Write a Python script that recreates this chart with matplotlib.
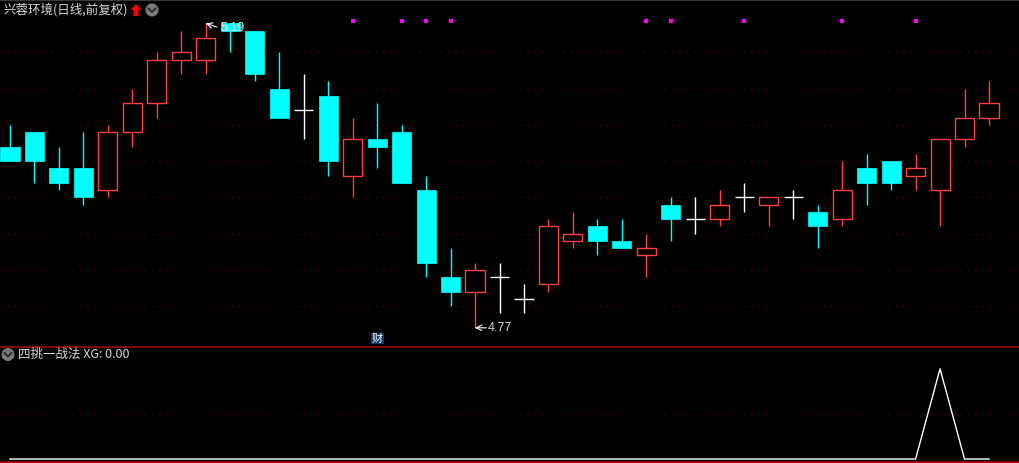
# candlestick chart: 兴蓉环境 daily (qfq) + 四挑一战法 XG indicator

import numpy as np
import matplotlib
matplotlib.use("Agg")
import matplotlib.pyplot as plt
import matplotlib.transforms as mtrans
from matplotlib.patches import Rectangle, Polygon, Ellipse
from matplotlib.lines import Line2D

# data
opens = [5.02, 5.04, 4.99, 4.99, 4.96, 5.04, 5.08, 5.14, 5.14, 5.19,
         5.18, 5.10, 5.07, 5.09, 4.98, 5.03, 5.04, 4.96, 4.84, 4.82,
         4.84, 4.81, 4.83, 4.89, 4.91, 4.89, 4.87, 4.94, 4.92, 4.92,
         4.95, 4.94, 4.95, 4.93, 4.92, 4.99, 5.00, 4.98, 4.96, 5.03, 5.06]
highs = [5.05, 5.04, 5.02, 5.04, 5.05, 5.10, 5.15, 5.18, 5.19, 5.19,
         5.18, 5.15, 5.12, 5.11, 5.06, 5.08, 5.05, 4.98, 4.88, 4.86,
         4.86, 4.83, 4.92, 4.93, 4.92, 4.92, 4.90, 4.95, 4.95, 4.96,
         4.97, 4.95, 4.96, 4.94, 5.00, 5.01, 5.00, 5.01, 5.03, 5.10, 5.11]
lows = [5.00, 4.97, 4.96, 4.94, 4.95, 5.02, 5.06, 5.12, 5.12, 5.15,
        5.11, 5.06, 5.03, 4.98, 4.95, 4.99, 4.97, 4.84, 4.80, 4.77,
        4.79, 4.79, 4.82, 4.88, 4.87, 4.88, 4.84, 4.89, 4.90, 4.91,
        4.93, 4.91, 4.92, 4.88, 4.91, 4.94, 4.96, 4.96, 4.91, 5.02, 5.05]
closes = [5.00, 5.00, 4.97, 4.95, 5.04, 5.08, 5.14, 5.15, 5.17, 5.18,
          5.12, 5.06, 5.07, 5.00, 5.03, 5.02, 4.97, 4.86, 4.82, 4.85,
          4.84, 4.81, 4.91, 4.90, 4.89, 4.88, 4.88, 4.92, 4.92, 4.94,
          4.95, 4.95, 4.95, 4.91, 4.96, 4.97, 4.97, 4.99, 5.03, 5.06, 5.08]
xg = [0] * 38 + [1, 0, 0]
signal_days = [14, 16, 17, 18, 26, 27, 30, 34, 37]   # magenta dots
cai_day = 15                                           # 财 marker
grid_prices = [4.80, 4.85, 4.90, 4.95, 5.00, 5.05, 5.10, 5.15]

W, H = 1019, 463
BG = "black"
UP = "#ff4040"
DOWN = "#00ffff"
GRID = "#720000"
SEP = "#a00000"
TXT = "#d6d6d6"
CJK = ["Noto Sans CJK SC", "DejaVu Sans"]
DOTS = (0, (1, 5.5))

n = len(opens)
idx = np.arange(n)


def fpos(x, y):
    # pixel (from top-left) -> figure fraction
    return x / W, 1 - y / H


fig = plt.figure(figsize=(W / 100, H / 100), dpi=100, facecolor=BG)

# main price panel, y from 0 to 346 px
ax = fig.add_axes([0, 1 - 346 / H, 1, 346 / H], facecolor=BG)
# 0.05 price step == 36.25 px, 5.15 sits at y=52.3 px
ppx = 725.0
ax.set_ylim(5.15 - (346 - 52.3) / ppx, 5.15 + 52.3 / ppx)
step = 24.475
ax.set_xlim(-10 / step, (W - 10) / step)

for gp in grid_prices:
    ax.axhline(gp, color=GRID, lw=0.8, ls=DOTS, zorder=0)

bw = 0.78
for i in range(n):
    o, h, l, c = opens[i], highs[i], lows[i], closes[i]
    if c > o:
        ax.vlines(i, c, h, color=UP, lw=1.0, zorder=2)
        ax.vlines(i, l, o, color=UP, lw=1.0, zorder=2)
        ax.add_patch(Rectangle((i - bw / 2, o), bw, c - o, facecolor=BG,
                               edgecolor=UP, lw=1.0, zorder=3))
    elif c < o:
        ax.vlines(i, l, h, color=DOWN, lw=1.0, zorder=2)
        ax.add_patch(Rectangle((i - bw / 2, c), bw, o - c, facecolor=DOWN,
                               edgecolor=DOWN, lw=0.5, zorder=3))
    else:
        ax.vlines(i, l, h, color="white", lw=1.0, zorder=2)
        ax.hlines(o, i - bw / 2, i + bw / 2, color="white", lw=1.0, zorder=2)

blend = mtrans.blended_transform_factory(ax.transData, ax.transAxes)
ax.plot(signal_days, [1 - 21.3 / 346] * len(signal_days), ls="none",
        marker="s", ms=2.6, color="#ff00ff", mew=0, transform=blend, zorder=4)

ax.text(cai_day, 1 - 338.5 / 346, "财", transform=blend, ha="center",
        va="center", fontsize=8, color="white", family=CJK,
        bbox=dict(boxstyle="square,pad=0.08", facecolor="#0d3b6e",
                  edgecolor="none"), zorder=5)

# max / min labels
imax = int(np.argmax(highs))
imin = int(np.argmin(lows))
ax.annotate("", xy=(imax, highs[imax]), xytext=(8, -2.7),
            textcoords="offset points",
            arrowprops=dict(arrowstyle="->", color="white", lw=0.8,
                            shrinkA=0, shrinkB=0), zorder=6)
ax.annotate(f"{highs[imax]:.2f}", xy=(imax, highs[imax]), xytext=(10.3, -3.4),
            textcoords="offset points", ha="left", va="center", fontsize=9,
            color="#e8e8e8", family=["Liberation Sans"], zorder=6)
ax.annotate("", xy=(imin, lows[imin]), xytext=(8.2, 0),
            textcoords="offset points",
            arrowprops=dict(arrowstyle="->", color="white", lw=0.8,
                            shrinkA=0, shrinkB=0), zorder=6)
ax.annotate(f"{lows[imin]:.2f}", xy=(imin, lows[imin]), xytext=(8.8, 0),
            textcoords="offset points", ha="left", va="center", fontsize=9,
            color=TXT, family=["Liberation Sans"], zorder=6)

for s in ["left", "right", "bottom"]:
    ax.spines[s].set_visible(False)
ax.spines["top"].set_color("#3a3a3a")
ax.spines["top"].set_linewidth(1.5)
ax.set_xticks([])
ax.set_yticks([])

# indicator panel
ax2 = fig.add_axes([0, 1 / H, 1, 115 / H], facecolor=BG)
ax2.set_xlim(ax.get_xlim())
ax2.set_ylim(-3 / 91, 113 / 91)
ax2.axhline(0.5, color=GRID, lw=0.8, ls=DOTS, zorder=0)
ax2.plot(idx, xg, color="white", lw=1.0)
for s in ["left", "right"]:
    ax2.spines[s].set_visible(False)
ax2.spines["top"].set_color(SEP)
ax2.spines["top"].set_linewidth(1.2)
ax2.spines["bottom"].set_color(SEP)
ax2.spines["bottom"].set_linewidth(1.2)
ax2.set_xticks([])
ax2.set_yticks([])

# titles and little icons
fig.text(*fpos(3, 10), "兴蓉环境(日线,前复权)", ha="left", va="center",
         fontsize=9, color=TXT, family=CJK)
arrow_px = [(136, 4), (141.5, 10), (138.5, 10), (138.5, 16),
            (133.5, 16), (133.5, 10), (130.5, 10)]
fig.add_artist(Polygon([fpos(x, y) for x, y in arrow_px], closed=True,
                       facecolor="#ff0000", edgecolor="none",
                       transform=fig.transFigure))


def chevron_button(cx, cy):
    fig.add_artist(Ellipse(fpos(cx, cy), 13 / W, 13 / H, facecolor="#7a7a7a",
                           edgecolor="none", transform=fig.transFigure))
    pts = [fpos(cx - 3.5, cy - 1.5), fpos(cx, cy + 2), fpos(cx + 3.5, cy - 1.5)]
    fig.add_artist(Line2D([p[0] for p in pts], [p[1] for p in pts],
                          color="#262626", lw=1.3, transform=fig.transFigure))


chevron_button(152, 10)
chevron_button(8, 354.5)
fig.text(*fpos(18, 354.5), f"四挑一战法 XG: {xg[-1]:.2f}", ha="left",
         va="center", fontsize=9, color=TXT, family=CJK)

fig.savefig("out.png", dpi=100, facecolor=BG)
